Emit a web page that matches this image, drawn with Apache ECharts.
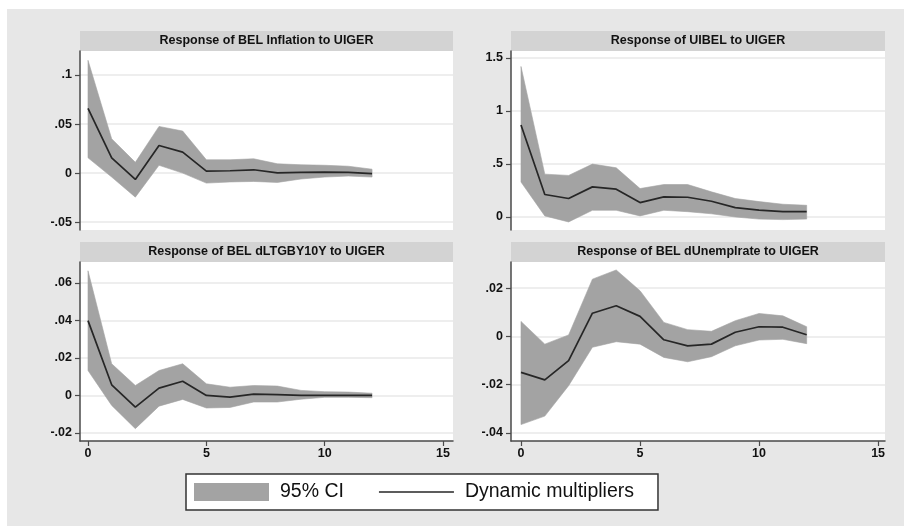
<!DOCTYPE html>
<html>
<head>
<meta charset="utf-8">
<script src="https://cdn.jsdelivr.net/npm/echarts@6/dist/echarts.min.js"></script>
<style>
  html, body { margin: 0; padding: 0; background: #fff; }
  #chart { width: 904px; height: 526px; }
</style>
</head>
<body>
<div id="chart"></div>
<script>
// horizons (x) shared by every panel
const horizons = [0, 1, 2, 3, 4, 5, 6, 7, 8, 9, 10, 11, 12]

const panelTitles = [
  'Response of BEL Inflation to UIGER',
  'Response of UIBEL to UIGER',
  'Response of BEL dLTGBY10Y to UIGER',
  'Response of BEL dUnemplrate to UIGER',
]

// dynamic multipliers and 95% CI bounds
const inflIrf = [0.066, 0.0156, -0.0065, 0.0282, 0.0214, 0.002, 0.0024, 0.0034, 0.0003, 0.0007, 0.001, 0.0008, -0.0005]
const inflHi = [0.115, 0.035, 0.011, 0.0476, 0.0429, 0.0136, 0.0136, 0.0146, 0.0095, 0.0085, 0.008, 0.007, 0.004]
const inflLo = [0.0156, -0.004, -0.0245, 0.008, 0.0, -0.0102, -0.009, -0.0085, -0.0095, -0.006, -0.004, -0.003, -0.004]

const uibelIrf = [0.868, 0.212, 0.174, 0.284, 0.262, 0.136, 0.189, 0.186, 0.148, 0.088, 0.065, 0.05, 0.05]
const uibelHi = [1.42, 0.404, 0.392, 0.499, 0.464, 0.268, 0.306, 0.306, 0.237, 0.174, 0.145, 0.12, 0.11]
const uibelLo = [0.33, 0.01, -0.047, 0.063, 0.063, 0.01, 0.063, 0.05, 0.03, 0.0, -0.02, -0.025, -0.02]

const ltgbyIrf = [0.0399, 0.0057, -0.0062, 0.0039, 0.0076, 0.0, -0.0009, 0.0007, 0.0004, 0.0, 0.0, 0.0, 0.0]
const ltgbyHi = [0.0665, 0.0169, 0.0053, 0.0133, 0.0169, 0.0062, 0.0044, 0.0053, 0.005, 0.0027, 0.002, 0.0018, 0.0012]
const ltgbyLo = [0.0133, -0.0053, -0.0177, -0.0057, -0.0021, -0.0067, -0.0064, -0.0035, -0.0035, -0.002, -0.001, -0.001, -0.0012]

const unempIrf = [-0.0149, -0.018, -0.01, 0.0096, 0.0127, 0.0083, -0.0014, -0.0039, -0.0032, 0.0017, 0.004, 0.0038, 0.0007]
const unempHi = [0.0062, -0.0032, 0.0006, 0.0237, 0.0275, 0.0189, 0.0058, 0.0028, 0.0021, 0.0065, 0.0095, 0.0085, 0.004]
const unempLo = [-0.0365, -0.033, -0.0204, -0.0045, -0.0022, -0.0032, -0.0087, -0.0105, -0.0084, -0.0039, -0.0015, -0.0012, -0.003]

// tick labels
const xTicks = [0, 5, 10, 15]
const yTicks = [
  [-0.05, 0, 0.05, 0.1],
  [0, 0.5, 1, 1.5],
  [-0.02, 0, 0.02, 0.04, 0.06],
  [-0.04, -0.02, 0, 0.02],
]

const panels = [
  { irf: inflIrf, hi: inflHi, lo: inflLo },
  { irf: uibelIrf, hi: uibelHi, lo: uibelLo },
  { irf: ltgbyIrf, hi: ltgbyHi, lo: ltgbyLo },
  { irf: unempIrf, hi: unempHi, lo: unempLo },
]

const FONT = 'Liberation Sans, Arial, sans-serif'
const BAND = '#a3a3a3'
const LINE = '#262626'

// plot boxes [left, top, width, height]
const boxes = [
  [80, 51, 373, 179],
  [511, 51, 374, 179],
  [80, 262, 373, 179],
  [511, 262, 374, 179],
]
const yRanges = [[-0.058, 0.1245], [-0.123, 1.566], [-0.0243, 0.0712], [-0.0433, 0.0308]]
const xRanges = [[-0.338, 15.42], [-0.42, 15.29], [-0.338, 15.42], [-0.42, 15.29]]

// stata style labels: .05 instead of 0.05
const stataFmt = (v) => String(+v.toFixed(4)).replace(/^(-?)0\./, '$1.')

const chart = echarts.init(document.getElementById('chart'))

const grids = boxes.map((b) => ({
  left: b[0], top: b[1], width: b[2], height: b[3],
  show: true, backgroundColor: '#fff', borderWidth: 0, containLabel: false,
}))

const xAxes = boxes.map((b, i) => {
  const bottomRow = i >= 2
  return {
    type: 'value', gridIndex: i, min: xRanges[i][0], max: xRanges[i][1],
    show: bottomRow,
    axisLine: { show: bottomRow, onZero: false, lineStyle: { color: '#4a4a4a', width: 1.5 } },
    axisTick: { show: bottomRow, length: 5, lineStyle: { color: '#4a4a4a', width: 1.2 }, customValues: xTicks },
    axisLabel: {
      show: bottomRow, margin: 6, customValues: xTicks,
      color: '#111', fontSize: 12.5, fontWeight: 'bold', fontFamily: FONT,
    },
    splitLine: { show: false },
  }
})

const yAxes = boxes.map((b, i) => ({
  type: 'value', gridIndex: i, min: yRanges[i][0], max: yRanges[i][1],
  axisLine: { show: true, onZero: false, lineStyle: { color: '#4a4a4a', width: 1.5 } },
  axisTick: { show: true, length: 5, lineStyle: { color: '#4a4a4a', width: 1.2 }, customValues: yTicks[i] },
  axisLabel: {
    margin: 8, customValues: yTicks[i], formatter: stataFmt,
    color: '#111', fontSize: 12.5, fontWeight: 'bold', fontFamily: FONT,
  },
  splitLine: { show: true, lineStyle: { color: '#e9e9e9', width: 1.5 } },
}))

// CI band: one polygon per panel, upper edge forward then lower edge back
function bandRenderer(p) {
  return function (params, api) {
    if (params.dataIndex !== 0) return null
    const upper = horizons.map((h, k) => api.coord([h, p.hi[k]]))
    const lower = horizons.map((h, k) => api.coord([h, p.lo[k]])).reverse()
    return {
      type: 'polygon',
      shape: { points: upper.concat(lower) },
      style: { fill: BAND, stroke: BAND, lineWidth: 0.6 },
    }
  }
}

const series = []
panels.forEach((p, i) => {
  series.push({
    type: 'custom', name: '95% CI', xAxisIndex: i, yAxisIndex: i,
    silent: true, color: BAND, clip: true,
    renderItem: bandRenderer(p),
    encode: { x: 0, y: [1, 2] },
    data: horizons.map((h, k) => [h, p.lo[k], p.hi[k]]),
    z: 2,
  })
  series.push({
    type: 'line', name: 'Dynamic multipliers', xAxisIndex: i, yAxisIndex: i,
    symbol: 'none', silent: true, color: LINE,
    lineStyle: { width: 1.7, color: LINE },
    data: horizons.map((h, k) => [h, p.irf[k]]),
    z: 3,
  })
})

// grey strips with the panel titles
const strips = []
boxes.forEach((b, i) => {
  strips.push({
    type: 'rect', silent: true,
    shape: { x: b[0], y: b[1] - 20, width: b[2], height: 20 },
    style: { fill: '#d3d3d3' },
  })
  strips.push({
    type: 'text', silent: true,
    x: b[0] + b[2] / 2, y: b[1] - 10,
    style: {
      text: panelTitles[i], textAlign: 'center', textVerticalAlign: 'middle',
      fill: '#111', font: 'bold 12.5px ' + FONT,
    },
  })
})
// white outer margin of the photo
strips.push({ type: 'rect', silent: true, shape: { x: 0, y: 0, width: 904, height: 9 }, style: { fill: '#fff' } })
strips.push({ type: 'rect', silent: true, shape: { x: 0, y: 0, width: 7, height: 526 }, style: { fill: '#fff' } })

chart.setOption({
  animation: false,
  backgroundColor: '#e7e7e7',
  textStyle: { fontFamily: FONT },
  grid: grids,
  xAxis: xAxes,
  yAxis: yAxes,
  series,
  graphic: strips,
  legend: {
    left: 186, top: 474,
    orient: 'horizontal',
    selectedMode: false,
    backgroundColor: '#fff',
    borderColor: '#333', borderWidth: 1.5, borderRadius: 0,
    padding: [8, 24, 8, 8],
    itemWidth: 75, itemHeight: 18, itemGap: 35,
    textStyle: { fontSize: 19.5, color: '#111', fontFamily: FONT, padding: [0, 0, 0, 6] },
    data: [
      { name: '95% CI', icon: 'rect', itemStyle: { color: BAND, borderWidth: 0 } },
      { name: 'Dynamic multipliers', icon: 'path://M0,0H75V1.6H0Z', itemStyle: { color: LINE, borderWidth: 0 } },
    ],
  },
})
</script>
</body>
</html>
